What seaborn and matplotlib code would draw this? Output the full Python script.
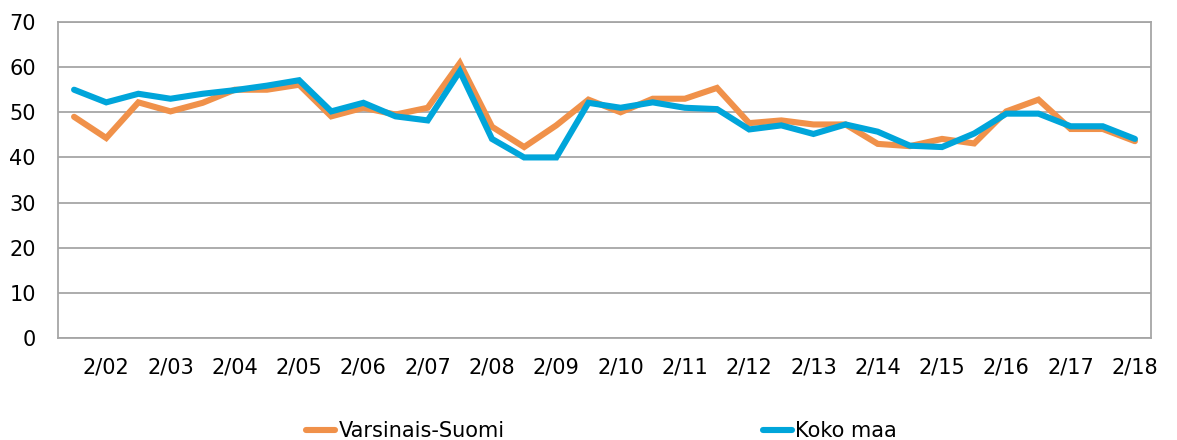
import seaborn as sns
import matplotlib.pyplot as plt
import pandas as pd

# half-year periods: 8/01, 2/02, 8/02, ... 2/18
periods = ["8/01"]
for yr in range(2, 18):
    periods += [f"2/{yr:02d}", f"8/{yr:02d}"]
periods.append("2/18")

varsinais_suomi = [49.0, 44.3, 52.2, 50.2, 52.1, 55.0, 55.0, 56.1, 49.1, 51.0,
                   49.5, 51.0, 60.9, 46.8, 42.3, 47.1, 52.8, 50.0, 53.0, 53.0,
                   55.4, 47.6, 48.2, 47.3, 47.3, 43.0, 42.5, 44.1, 43.1, 50.2,
                   52.8, 46.3, 46.3, 43.6]
koko_maa = [55.0, 52.2, 54.1, 53.0, 54.1, 54.9, 55.9, 57.1, 50.2, 52.1,
            49.1, 48.2, 59.1, 44.1, 40.0, 40.0, 52.1, 51.0, 52.2, 51.0,
            50.7, 46.2, 47.1, 45.2, 47.3, 45.7, 42.6, 42.3, 45.3, 49.7,
            49.7, 46.9, 46.9, 44.1]

y_ticks = list(range(0, 71, 10))

df = pd.DataFrame({
    "pos": list(range(len(periods))) * 2,
    "value": varsinais_suomi + koko_maa,
    "series": ["Varsinais-Suomi"] * len(periods) + ["Koko maa"] * len(periods),
})

sns.set_style("white")
plt.rcParams["font.family"] = ["DejaVu Sans"]
plt.rcParams["text.color"] = "black"
plt.rcParams["xtick.color"] = "black"
plt.rcParams["ytick.color"] = "black"

DPI = 100
fig = plt.figure(figsize=(1177 / DPI, 440 / DPI), dpi=DPI)
ax = fig.add_axes([58 / 1177, 1 - 338 / 440, (1151 - 58) / 1177, (338 - 22) / 440])

palette = {"Varsinais-Suomi": "#F0914A", "Koko maa": "#00A5DA"}
sns.lineplot(data=df, x="pos", y="value", hue="series", palette=palette,
             linewidth=4.4, ax=ax, legend=False, sort=False)
for line in ax.lines:
    line.set_solid_joinstyle("miter")

ax.set_xlim(-0.5, len(periods) - 0.5)
ax.set_ylim(0, 70)
ax.set_yticks(y_ticks)
ax.set_yticklabels([str(v) for v in y_ticks], fontsize=15)
tick_pos = [i for i, p in enumerate(periods) if p.startswith("2/")]
ax.set_xticks(tick_pos)
ax.set_xticklabels([periods[i] for i in tick_pos], fontsize=15)
ax.tick_params(axis="y", length=0, pad=16, colors="black")
ax.tick_params(axis="x", length=0, pad=14, colors="black")
ax.set_xlabel("")
ax.set_ylabel("")

ax.grid(axis="y", color="#A6A6A6", linewidth=1.3)
ax.set_axisbelow(True)
for sp in ax.spines.values():
    sp.set_visible(True)
    sp.set_color("#A6A6A6")
    sp.set_linewidth(1.3)

handles = [plt.Line2D([], [], color=palette[s], linewidth=4.4)
           for s in ["Varsinais-Suomi", "Koko maa"]]
fig.legend(handles, ["Varsinais-Suomi", "Koko maa"], loc="center",
           bbox_to_anchor=(0.511, 1 - 431 / 440), ncol=2, frameon=False,
           fontsize=15, handlelength=1.4, handletextpad=0.15,
           columnspacing=12.4, labelcolor="black")

fig.savefig("out.png", dpi=DPI)
plt.close(fig)
